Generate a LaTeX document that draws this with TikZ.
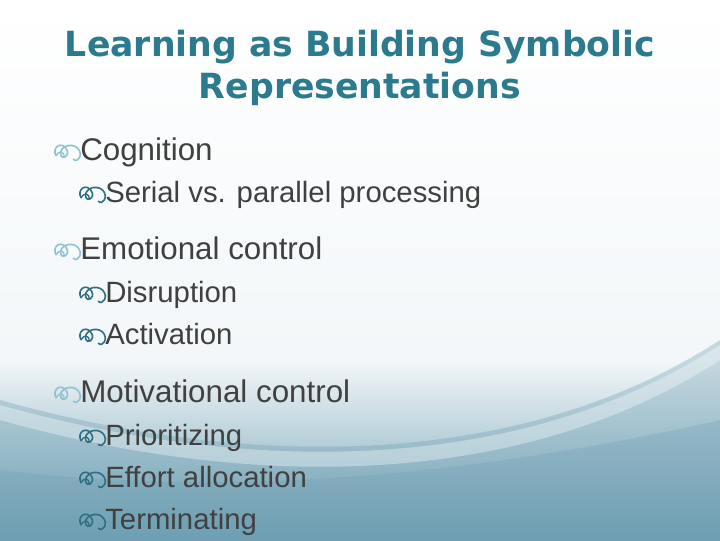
\documentclass[tikz,border=0pt]{standalone}
\usepackage{fontspec}
\setmainfont{Liberation Sans}
\newfontfamily\titlefont{DejaVu Sans}
\definecolor{titlec}{HTML}{2B7A8E}
\definecolor{bodyc}{HTML}{404040}
\definecolor{bl1}{HTML}{8FC3D2}
\definecolor{bl2}{HTML}{2F6F82}
\definecolor{bgdark}{HTML}{6E9FB3}
\definecolor{bglight}{HTML}{F3F7F9}
\tikzset{
  lvA/.style={anchor=base west,text=bodyc,font=\fontsize{23.5}{26}\selectfont,inner sep=0pt},
  lvB/.style={anchor=base west,text=bodyc,font=\fontsize{22}{24}\selectfont,inner sep=0pt},
  bul/.pic={\begin{scope}[scale=1.55]
             \draw[line width=1.2pt,#1] (0,0) .. controls (-3,-6) and (4,-10) .. (7,-4) .. controls (9,0) and (4,3) .. (3,-1) .. controls (2,-6) and (10,-9) .. (14,-5) .. controls (18,-1) and (14,5) .. (11,2);
             \draw[line width=1pt,#1] (0,0) .. controls (2,-4) and (6,-3) .. (5,1);
             \end{scope}}
}
\begin{document}
\begin{tikzpicture}[x=0.75pt,y=-0.75pt]
\useasboundingbox (0,0) rectangle (720,540);
\shade[top color=white,bottom color=bglight] (0,0) rectangle (720,360);
\shade[top color=bglight,bottom color=bgdark] (0,360) rectangle (720,540);
\fill[bgdark,opacity=0.35] (0,400) .. controls (250,470) and (520,470) .. (720,340) -- (720,540) -- (0,540) -- cycle;
\fill[white,opacity=0.35] (0,405) .. controls (250,475) and (520,475) .. (720,345) -- (720,360) .. controls (520,490) and (250,490) .. (0,420) -- cycle;
\fill[bgdark,opacity=0.3] (0,470) .. controls (250,500) and (500,470) .. (720,420) -- (720,540) -- (0,540) -- cycle;
\node[font=\titlefont\bfseries\fontsize{26}{31}\selectfont,text=titlec,align=center,inner sep=0pt] (title) at (360,68) {Learning as Building Symbolic\\Representations};
\node[lvA] (c1) at (80,160) {Cognition};
\node[lvB] (c2) at (105,202) {Serial vs. parallel processing};
\node[lvA] (e1) at (80,259) {Emotional control};
\node[lvB] (e2) at (105,302) {Disruption};
\node[lvB] (e3) at (105,344) {Activation};
\node[lvA] (m1) at (80,402) {Motivational control};
\node[lvB] (m2) at (105,445) {Prioritizing};
\node[lvB] (m3) at (105,487) {Effort allocation};
\node[lvB] (m4) at (105,529) {Terminating};
\foreach \n in {c1,e1,m1} \pic at ([xshift=-18pt,yshift=3pt]\n.base west) {bul=bl1};
\foreach \n in {c2,e2,e3,m2,m3,m4} \pic at ([xshift=-18pt,yshift=3pt]\n.base west) {bul=bl2};
\end{tikzpicture}
\end{document}
